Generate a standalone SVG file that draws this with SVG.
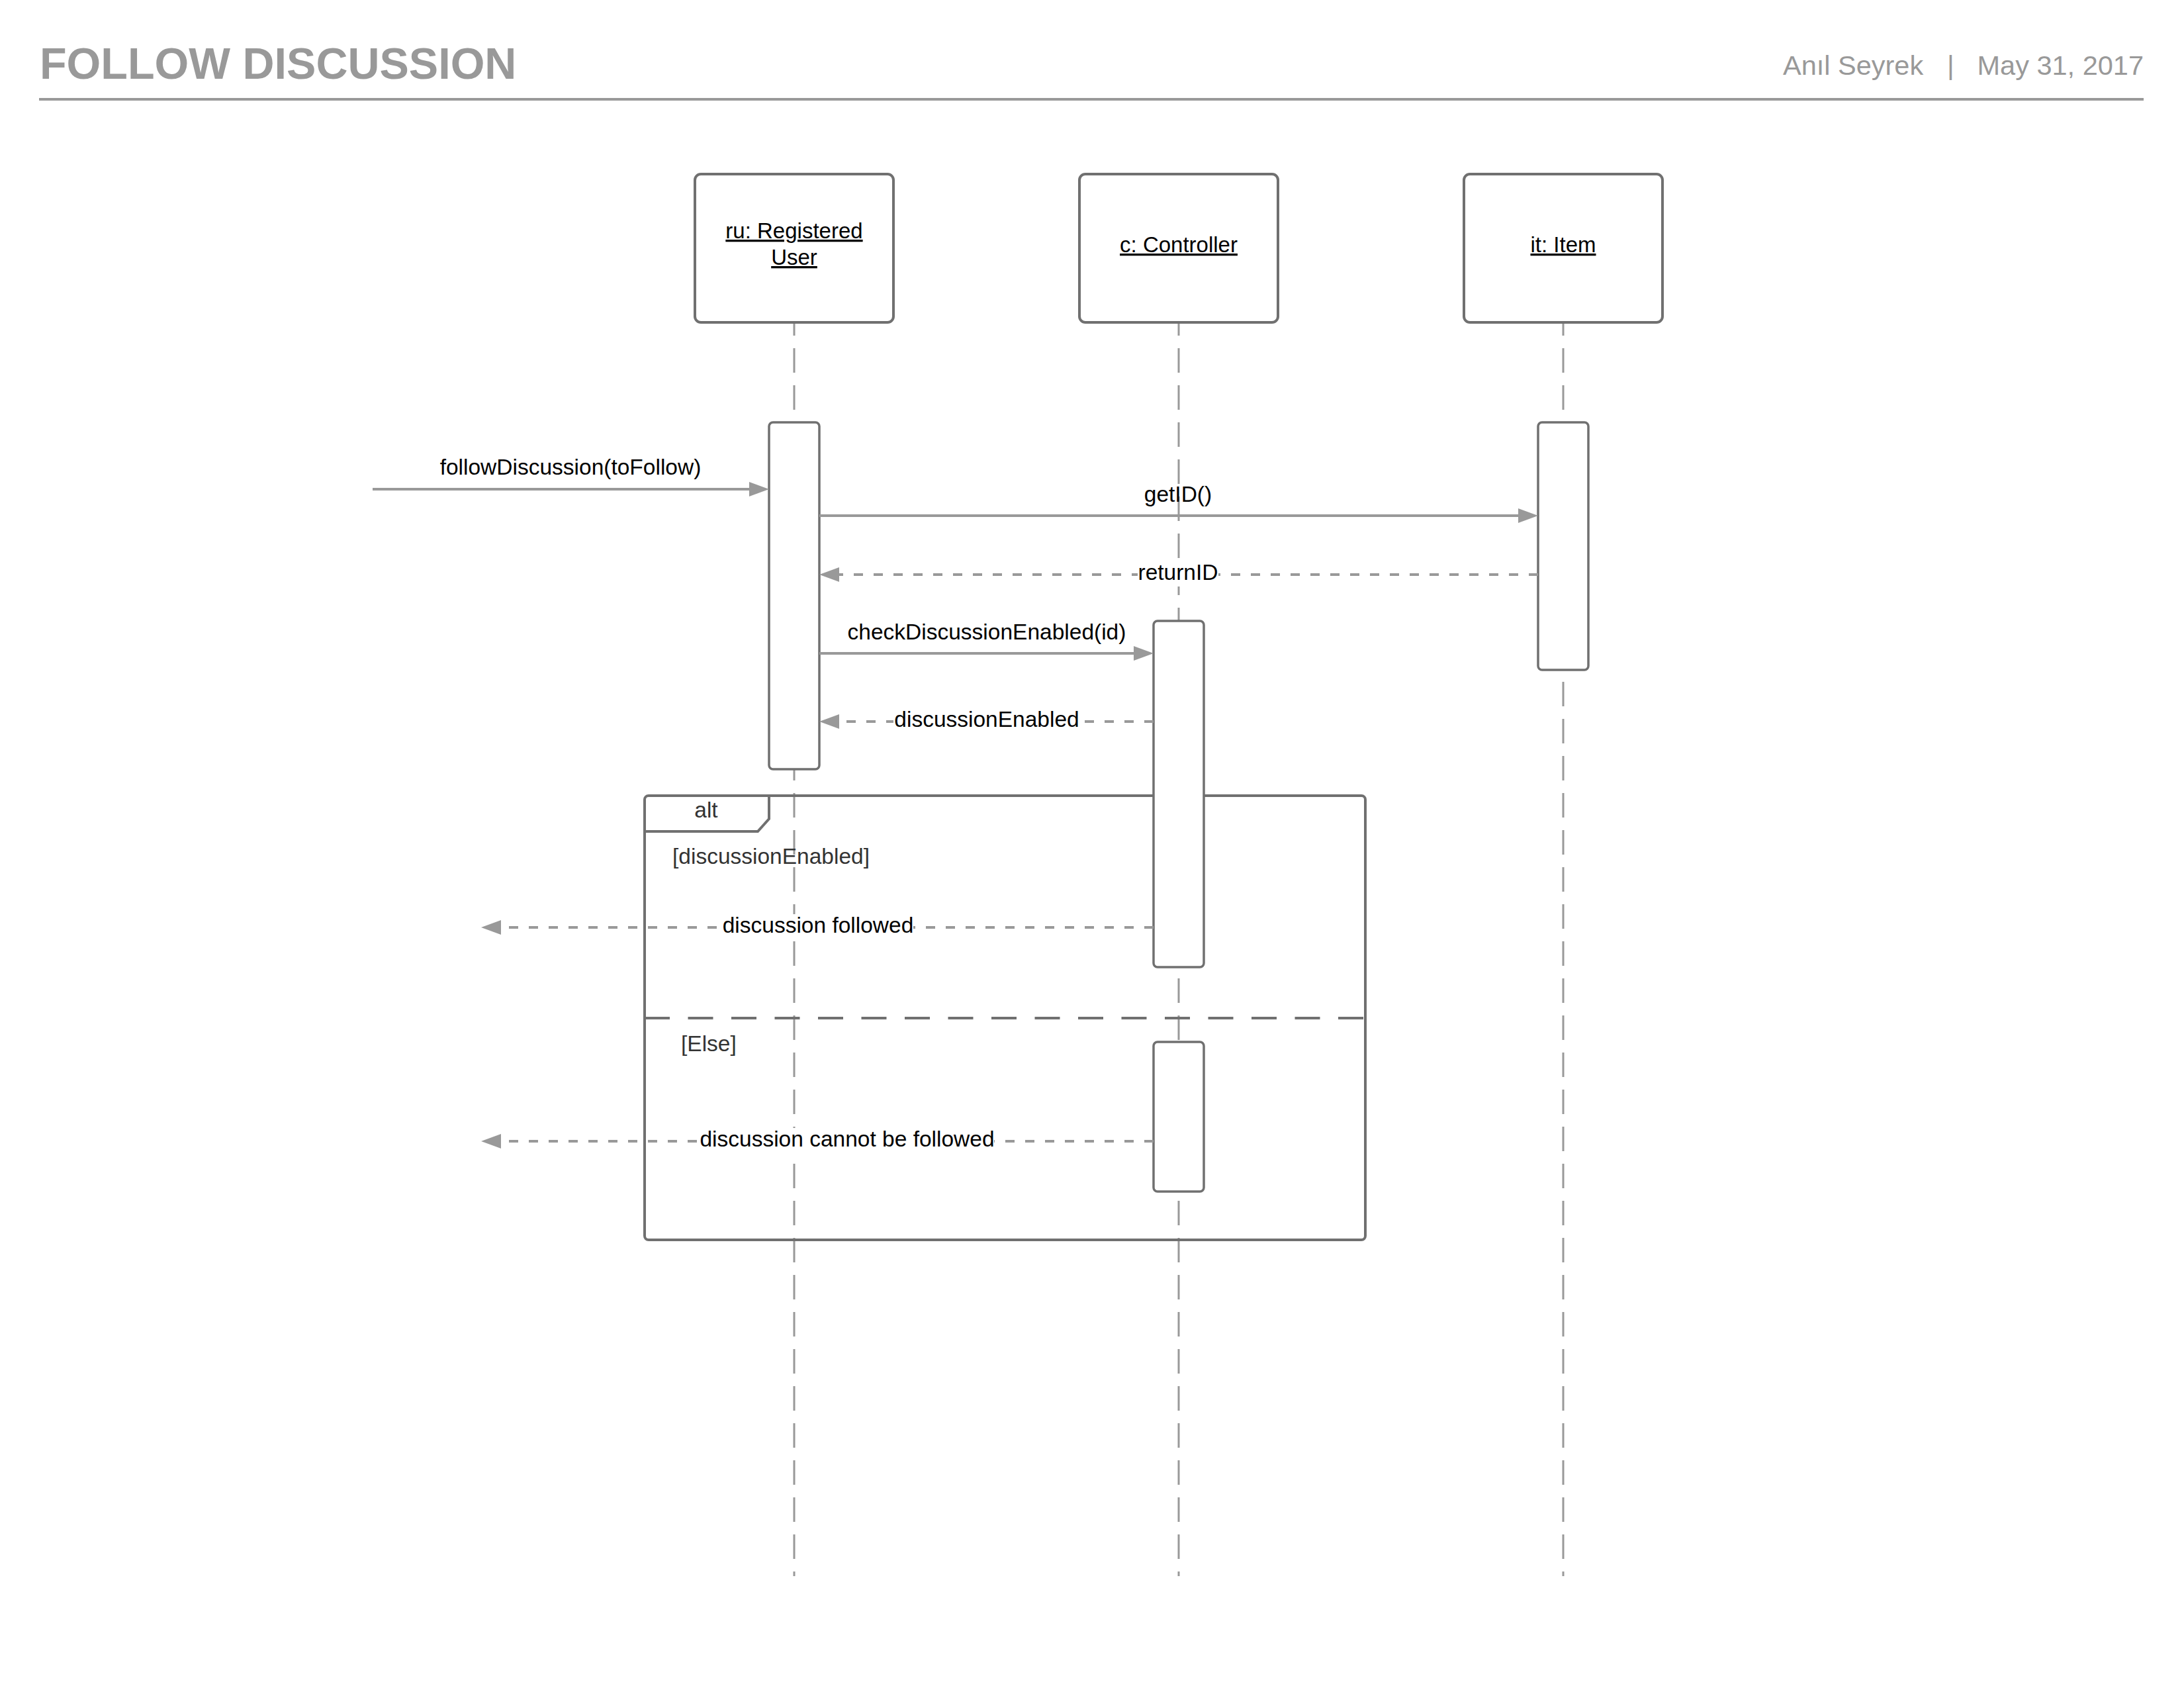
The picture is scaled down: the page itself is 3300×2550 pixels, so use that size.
<svg xmlns="http://www.w3.org/2000/svg" width="3300" height="2550" viewBox="0 0 3300 2550">
  <style>
    .title { font-family: "Liberation Sans", Arial, sans-serif; font-weight: bold; font-size: 66.5px; fill: #999999; }
    .meta { font-family: "Liberation Sans", Arial, sans-serif; font-size: 41.5px; fill: #999999; }
    .head { fill: #ffffff; stroke: #707070; stroke-width: 4; }
    .headtxt { font-family: "Liberation Sans", Arial, sans-serif; font-size: 33px; fill: #000000; text-anchor: middle; text-decoration: underline; }
    .life { stroke: #999999; stroke-width: 3; stroke-dasharray: 37 19; stroke-dashoffset: 17; fill: none; }
    .act { fill: #ffffff; stroke: #707070; stroke-width: 3.5; }
    .msg { stroke: #999999; stroke-width: 4; fill: none; marker-end: url(#arrow); }
    .ret { stroke: #999999; stroke-width: 4; fill: none; stroke-dasharray: 14 16; marker-end: url(#arrow); }
    .lbl { font-family: "Liberation Sans", Arial, sans-serif; font-size: 33.5px; fill: #000000; text-anchor: middle; }
    .lblbg { fill: #ffffff; }
    .frame { fill: none; stroke: #707070; stroke-width: 4; }
    .sep { stroke: #707070; stroke-width: 4; stroke-dasharray: 38 27.5; fill: none; }
    .guard { font-family: "Liberation Sans", Arial, sans-serif; font-size: 33.5px; fill: #333333; }
  </style>
  <defs>
    <marker id="arrow" markerUnits="userSpaceOnUse" markerWidth="30" markerHeight="22" refX="4" refY="11" orient="auto">
      <path d="M0,0 L30,11 L0,22 Z" fill="#999999"/>
    </marker>
  </defs>

  <rect width="3300" height="2550" fill="#ffffff"/>

  <!-- page header -->
  <g id="header">
    <text class="title" x="60" y="119">FOLLOW DISCUSSION</text>
    <text class="meta" x="2694" y="113">Anıl Seyrek</text>
    <text class="meta" x="2942" y="113">|</text>
    <text class="meta" x="3239" y="113" text-anchor="end">May 31, 2017</text>
    <line x1="59" y1="150" x2="3239" y2="150" stroke="#999999" stroke-width="4"/>
  </g>

  <!-- lifelines -->
  <g id="lifelines">
    <line class="life" x1="1200" y1="487" x2="1200" y2="2381"/>
    <line class="life" x1="1781" y1="487" x2="1781" y2="2381"/>
    <line class="life" x1="2362" y1="487" x2="2362" y2="2381"/>
  </g>

  <!-- combined fragment: alt -->
  <g id="alt-fragment">
    <rect class="frame" x="974" y="1202" width="1089" height="671" rx="6"/>
    <polyline class="frame" points="974,1256 1145,1256 1162,1237 1162,1202"/>
    <text class="guard" x="1067" y="1235" text-anchor="middle">alt</text>
    <text class="guard" x="1016" y="1305">[discussionEnabled]</text>
    <line class="sep" x1="974" y1="1538" x2="2063" y2="1538"/>
    <text class="guard" x="1029" y="1588">[Else]</text>
  </g>

  <!-- participants -->
  <g id="ru">
    <rect class="head" x="1050" y="263" width="300" height="224" rx="9"/>
    <text class="headtxt" x="1200" y="360">ru: Registered</text>
    <text class="headtxt" x="1200" y="400">User</text>
    <rect class="act" x="1162" y="638" width="76" height="524" rx="6"/>
  </g>
  <g id="c">
    <rect class="head" x="1631" y="263" width="300" height="224" rx="9"/>
    <text class="headtxt" x="1781" y="381">c: Controller</text>
    <rect class="act" x="1743" y="938" width="76" height="523" rx="6"/>
    <rect class="act" x="1743" y="1574" width="76" height="226" rx="6"/>
  </g>
  <g id="it">
    <rect class="head" x="2212" y="263" width="300" height="224" rx="9"/>
    <text class="headtxt" x="2362" y="381">it: Item</text>
    <rect class="act" x="2324" y="638" width="76" height="374" rx="6"/>
  </g>

  <!-- messages -->
  <g id="connectors">
    <line class="msg" x1="563" y1="739" x2="1136" y2="739"/>
    <text class="lbl" x="862" y="717">followDiscussion(toFollow)</text>

    <line class="msg" x1="1238" y1="779" x2="2298" y2="779"/>
    <text class="lbl" x="1780" y="758">getID()</text>

    <line class="ret" x1="2324" y1="868" x2="1264" y2="868"/>
    <rect class="lblbg" x="1719" y="848" width="122" height="38"/>
    <text class="lbl" x="1780" y="876">returnID</text>

    <line class="ret" x1="1743" y1="1090" x2="1264" y2="1090"/>
    <rect class="lblbg" x="1350" y="1070" width="282" height="38"/>
    <text class="lbl" x="1491" y="1098">discussionEnabled</text>

    <line class="msg" x1="1238" y1="987" x2="1717" y2="987"/>
    <text class="lbl" x="1491" y="966">checkDiscussionEnabled(id)</text>

    <line class="ret" x1="1743" y1="1401" x2="753" y2="1401"/>
    <rect class="lblbg" x="1092" y="1381" width="288" height="38"/>
    <text class="lbl" x="1236" y="1409">discussion followed</text>

    <line class="ret" x1="1743" y1="1724" x2="753" y2="1724"/>
    <rect class="lblbg" x="1058" y="1704" width="444" height="38"/>
    <text class="lbl" x="1280" y="1732">discussion cannot be followed</text>
  </g>
</svg>
